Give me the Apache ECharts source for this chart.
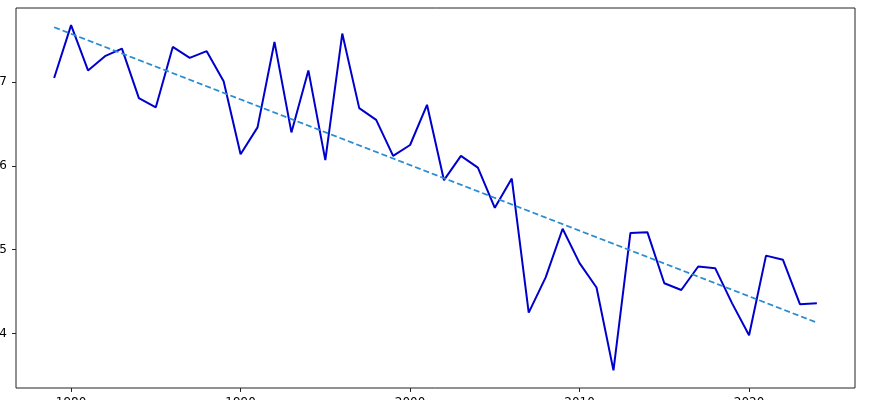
<!DOCTYPE html>
<html>
<head>
<meta charset="utf-8">
<script src="https://cdn.jsdelivr.net/npm/echarts@6/dist/echarts.min.js"></script>
<style>
    html, body { margin: 0; padding: 0; background: #fff; }
    #chart { width: 877px; height: 400px; }
</style>
</head>
<body>
<div id="chart"></div>
<script>
    // yearly values
    var years = [1979, 1980, 1981, 1982, 1983, 1984, 1985, 1986, 1987, 1988, 1989,
        1990, 1991, 1992, 1993, 1994, 1995, 1996, 1997, 1998, 1999,
        2000, 2001, 2002, 2003, 2004, 2005, 2006, 2007, 2008, 2009,
        2010, 2011, 2012, 2013, 2014, 2015, 2016, 2017, 2018, 2019,
        2020, 2021, 2022, 2023, 2024];
    var values = [7.05, 7.68, 7.14, 7.31, 7.40, 6.81, 6.70, 7.42, 7.29, 7.37, 7.01,
        6.14, 6.46, 7.48, 6.40, 7.14, 6.07, 7.58, 6.69, 6.55, 6.12,
        6.25, 6.73, 5.83, 6.12, 5.98, 5.50, 5.85, 4.25, 4.67, 5.25,
        4.84, 4.55, 3.56, 5.20, 5.21, 4.60, 4.52, 4.80, 4.78, 4.36,
        3.98, 4.93, 4.88, 4.35, 4.36];
    // trend line end points
    var trendYears = [1979, 2024];
    var trendValues = [7.655, 4.13];
    var xTicks = [1980, 1990, 2000, 2010, 2020];
    var yTicks = [4, 5, 6, 7];

    var chart = echarts.init(document.getElementById('chart'));
    var option = {
        animation: false,
        grid: {
            left: 16, right: 22, top: 8, bottom: 12,
            outerBoundsMode: 'none',
            containLabel: false,
            show: true, borderColor: '#222', borderWidth: 1
        },
        xAxis: {
            type: 'value',
            min: 1976.75,
            max: 2026.25,
            splitLine: { show: false },
            axisLine: { show: false },
            axisTick: { show: true, length: 4, lineStyle: { color: '#222' }, customValues: xTicks },
            axisLabel: {
                color: '#000', fontSize: 12, margin: 9, fontFamily: 'DejaVu Sans',
                customValues: xTicks,
                formatter: function (v) { return String(v); }
            }
        },
        yAxis: {
            type: 'value',
            min: 3.35,
            max: 7.885,
            splitLine: { show: false },
            axisLine: { show: false },
            axisTick: { show: true, length: 4, lineStyle: { color: '#222' }, customValues: yTicks },
            axisLabel: { color: '#000', fontSize: 12, margin: 9, fontFamily: 'DejaVu Sans', customValues: yTicks }
        },
        series: [
            {
                type: 'line',
                data: years.map(function (y, i) { return [y, values[i]]; }),
                symbol: 'none',
                lineStyle: { color: '#0000cc', width: 2 }
            },
            {
                type: 'line',
                data: trendYears.map(function (y, i) { return [y, trendValues[i]]; }),
                symbol: 'none',
                lineStyle: { color: '#2b8cd0', width: 1.8, type: [6, 3] }
            }
        ]
    };
    chart.setOption(option);
</script>
</body>
</html>
